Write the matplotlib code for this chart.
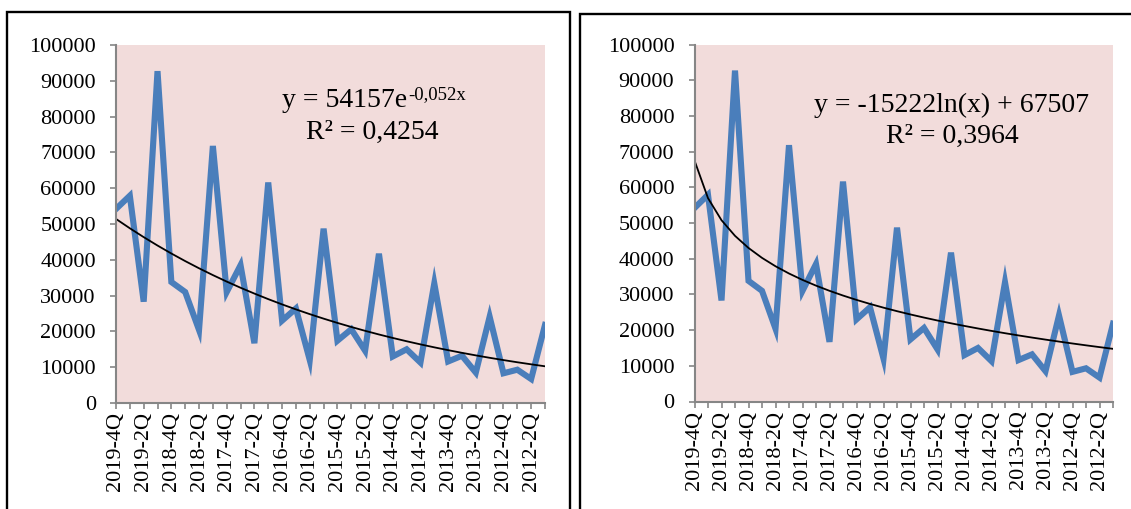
import matplotlib
matplotlib.use("Agg")
import matplotlib.pyplot as plt
import numpy as np
from matplotlib.patches import Rectangle

plt.rcParams['font.family'] = ['Liberation Serif', 'DejaVu Serif']

# quarterly values, newest first (2019-4Q ... 2012-1Q)
quarters = [f"{y}-{q}Q" for y in range(2019, 2011, -1) for q in (4, 3, 2, 1)]
values = [54200, 57900, 28300, 92700, 33800, 31000, 20400, 71800,
          31000, 38500, 16700, 61600, 23000, 26400, 12000, 48700,
          17400, 20600, 14600, 41700, 13000, 15000, 11300, 33400,
          11600, 13200, 8500, 24100, 8300, 9300, 6700, 21800]

# trend line coefficients as shown on the chart
exp_a, exp_b = 54157, -0.052
log_a, log_b = -15222, 67507

exp_label = "y = 54157e"
exp_sup = "-0,052x"
exp_r2 = "R² = 0,4254"
log_label = "y = -15222ln(x) + 67507"
log_r2 = "R² = 0,3964"

W, H = 1131, 509
fig = plt.figure(figsize=(W / 100, H / 100), dpi=100)

# panel frames
fig.patches.append(Rectangle((7 / W, -0.1), (570 - 7) / W, 1.1 - 12 / H,
                             transform=fig.transFigure, fill=False,
                             edgecolor='black', linewidth=1.7))
fig.patches.append(Rectangle((580 / W, -0.1), 0.6, 1.1 - 14 / H,
                             transform=fig.transFigure, fill=False,
                             edgecolor='black', linewidth=1.7))

x = np.arange(len(values))
xt = x + 1
axis_grey = '#868686'


def make_panel(rect, trend):
    ax = fig.add_axes(rect)
    ax.set_facecolor('#F2DCDB')
    ax.plot(x, values, color='#4A7EBB', linewidth=4.4, solid_joinstyle='miter')
    ax.plot(x, trend, color='black', linewidth=1.3)
    ax.set_xlim(0, len(values) - 1)
    ax.set_ylim(0, 100000)
    ax.set_yticks(np.arange(0, 100001, 10000))
    ax.set_yticklabels([str(v) for v in range(0, 100001, 10000)])
    ax.set_xticks(x)
    ax.set_xticklabels([q if i % 2 == 0 else '' for i, q in enumerate(quarters)],
                       rotation=90)
    for s in ('top', 'right'):
        ax.spines[s].set_visible(False)
    for s in ('left', 'bottom'):
        ax.spines[s].set_color(axis_grey)
        ax.spines[s].set_linewidth(1.5)
    ax.tick_params(axis='both', colors=axis_grey, labelcolor='black',
                   length=4.5, width=1.2, labelsize=16)
    ax.tick_params(axis='y', pad=10)
    ax.tick_params(axis='x', pad=2)
    return ax


ax1 = make_panel([116 / W, (H - 403) / H, 429 / W, 358 / H],
                 exp_a * np.exp(exp_b * xt))
t = ax1.text(0.387, 0.828, exp_label, transform=ax1.transAxes, ha='left',
             va='baseline', fontsize=20)
ax1.annotate(exp_sup, xy=(1, 0), xycoords=t, xytext=(0.5, 9.5),
             textcoords='offset points', ha='left', va='baseline', fontsize=13.5)
ax1.text(0.598, 0.739, exp_r2, transform=ax1.transAxes, ha='center',
         va='baseline', fontsize=20)

ax2 = make_panel([694.5 / W, (H - 401.5) / H, 418.5 / W, 357 / H],
                 log_a * np.log(xt) + log_b)
ax2.text(0.615, 0.812, log_label, transform=ax2.transAxes, ha='center',
         va='baseline', fontsize=20)
ax2.text(0.615, 0.723, log_r2, transform=ax2.transAxes, ha='center',
         va='baseline', fontsize=20)

fig.savefig('out.png', dpi=100)
